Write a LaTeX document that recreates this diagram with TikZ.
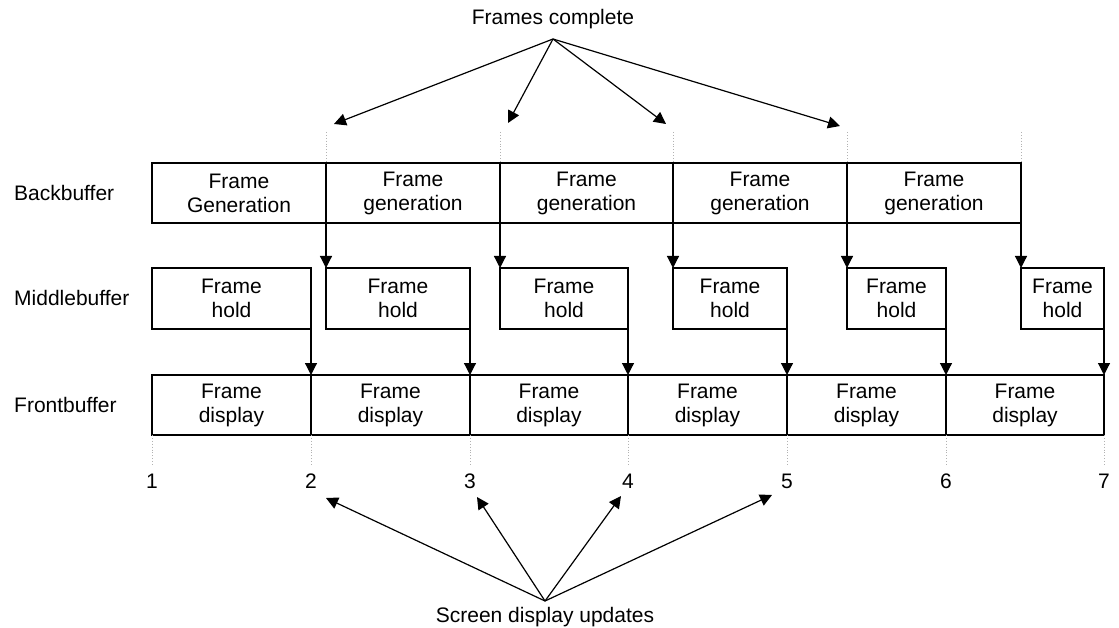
\documentclass[tikz,border=0pt]{standalone}
\usepackage{fontspec}
\setmainfont{Liberation Sans}
\usetikzlibrary{arrows.meta}
\begin{document}
\begin{tikzpicture}[x=1pt,y=-1pt,
  txt/.style={font=\fontsize{21pt}{24pt}\selectfont, inner sep=0pt},
  box/.style={txt, draw=black, line width=1.2pt, align=center, outer sep=0pt, anchor=north west},
  conn/.style={line width=1.2pt, -{Triangle[length=12pt,width=12pt]}},
  dotline/.style={gray!60, line width=0.9pt, dotted}]
\useasboundingbox (0,0) rectangle (1119,628);
% row labels
\node[txt, anchor=west] (lb) at (14,193) {Backbuffer};
\node[txt, anchor=west] (lm) at (14,298) {Middlebuffer};
\node[txt, anchor=west] (lf) at (14,405) {Frontbuffer};
% back buffer
\node[box, minimum width=174pt, minimum height=60pt] (b1) at (152,163) {Frame\\Generation};
\node[box, minimum width=174pt, minimum height=60pt] (b2) at (326,163) {Frame\\generation};
\node[box, minimum width=173pt, minimum height=60pt] (b3) at (500,163) {Frame\\generation};
\node[box, minimum width=174pt, minimum height=60pt] (b4) at (673,163) {Frame\\generation};
\node[box, minimum width=174pt, minimum height=60pt] (b5) at (847,163) {Frame\\generation};
% middle buffer
\node[box, minimum width=159pt, minimum height=61pt] (m1) at (152,268) {Frame\\hold};
\node[box, minimum width=144pt, minimum height=61pt] (m2) at (326,268) {Frame\\hold};
\node[box, minimum width=128pt, minimum height=61pt] (m3) at (500,268) {Frame\\hold};
\node[box, minimum width=114pt, minimum height=61pt] (m4) at (673,268) {Frame\\hold};
\node[box, minimum width=99pt, minimum height=61pt] (m5) at (847,268) {Frame\\hold};
\node[box, minimum width=83pt, minimum height=61pt] (m6) at (1021,268) {Frame\\hold};
% front buffer
\node[box, minimum width=159pt, minimum height=60pt] (f1) at (152,375) {Frame\\display};
\node[box, minimum width=159pt, minimum height=60pt] (f2) at (311,375) {Frame\\display};
\node[box, minimum width=158pt, minimum height=60pt] (f3) at (470,375) {Frame\\display};
\node[box, minimum width=159pt, minimum height=60pt] (f4) at (628,375) {Frame\\display};
\node[box, minimum width=159pt, minimum height=60pt] (f5) at (787,375) {Frame\\display};
\node[box, minimum width=158pt, minimum height=60pt] (f6) at (946,375) {Frame\\display};
% back -> middle
\draw[conn] (b2.south west) -- (m2.north west);
\draw[conn] (b3.south west) -- (m3.north west);
\draw[conn] (b4.south west) -- (m4.north west);
\draw[conn] (b5.south west) -- (m5.north west);
\draw[conn] (b5.south east) -- (m6.north west);
% middle -> front
\draw[conn] (m1.south east) -- (f1.north east);
\draw[conn] (m2.south east) -- (f2.north east);
\draw[conn] (m3.south east) -- (f3.north east);
\draw[conn] (m4.south east) -- (f4.north east);
\draw[conn] (m5.south east) -- (f5.north east);
\draw[conn] (m6.south east) -- (f6.north east);
% dotted markers above back buffer
\coordinate (d2) at (326,132);
\coordinate (d3) at (500,132);
\coordinate (d4) at (673,132);
\coordinate (d5) at (847,132);
\coordinate (d6) at (1021,132);
\draw[dotline] (d2) -- (b2.north west);
\draw[dotline] (d3) -- (b3.north west);
\draw[dotline] (d4) -- (b4.north west);
\draw[dotline] (d5) -- (b5.north west);
\draw[dotline] (d6) -- (b5.north east);
% dotted markers below front buffer and numbers
\coordinate (e1) at (152,465);
\coordinate (e2) at (311,465);
\coordinate (e3) at (470,465);
\coordinate (e4) at (628,465);
\coordinate (e5) at (787,465);
\coordinate (e6) at (946,465);
\coordinate (e7) at (1104,465);
\draw[dotline] (f1.south west) -- (e1);
\draw[dotline] (f2.south west) -- (e2);
\draw[dotline] (f3.south west) -- (e3);
\draw[dotline] (f4.south west) -- (e4);
\draw[dotline] (f5.south west) -- (e5);
\draw[dotline] (f6.south west) -- (e6);
\draw[dotline] (f6.south east) -- (e7);
\node[txt] (n1) at (152,481) {1};
\node[txt] (n2) at (311,481) {2};
\node[txt] (n3) at (470,481) {3};
\node[txt] (n4) at (628,481) {4};
\node[txt] (n5) at (787,481) {5};
\node[txt] (n6) at (946,481) {6};
\node[txt] (n7) at (1104,481) {7};
% frames complete
\node[txt] (fc) at (553,19) {Frames complete};
\coordinate (fa) at (553,39);
\coordinate (t1) at (334,124);
\coordinate (t2) at (508,123);
\coordinate (t3) at (666,124);
\coordinate (t4) at (840,126);
\draw[conn] (fa) -- (t1);
\draw[conn] (fa) -- (t2);
\draw[conn] (fa) -- (t3);
\draw[conn] (fa) -- (t4);
% screen display updates
\node[txt] (sd) at (545,617) {Screen display updates};
\coordinate (sa) at (545,601);
\coordinate (u1) at (326,498);
\coordinate (u2) at (477,497);
\coordinate (u3) at (621,496);
\coordinate (u4) at (772,495);
\draw[conn] (sa) -- (u1);
\draw[conn] (sa) -- (u2);
\draw[conn] (sa) -- (u3);
\draw[conn] (sa) -- (u4);
\end{tikzpicture}
\end{document}
